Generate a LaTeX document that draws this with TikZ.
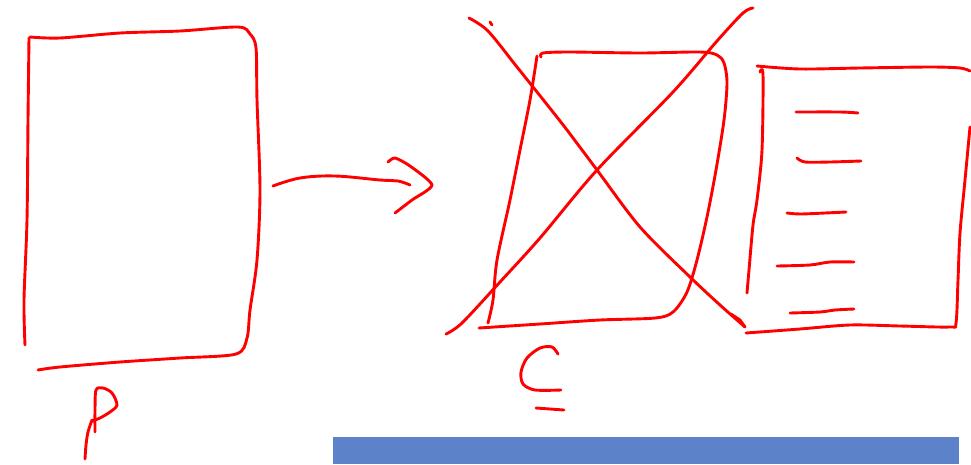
\documentclass[tikz,border=0pt]{standalone}
\definecolor{inkred}{RGB}{255,0,0}
\definecolor{barblue}{RGB}{92,130,202}
\tikzset{
  ink/.style={draw=inkred, line width=2.9pt, line cap=round, line join=round},
}
\begin{document}
\begin{tikzpicture}[x=1pt,y=-1pt]
\useasboundingbox (0,0) rectangle (971,464);
% ---- left rectangle (P)
\draw[ink] plot[smooth,tension=0.5] coordinates {(29,38) (28,120) (27,220) (24,300) (25,345)};
\draw[ink] plot[smooth,tension=0.5] coordinates {(30,37) (60,38) (120,33) (180,31) (238,27) (250,34) (256,48) (257,100) (260,190) (257,260) (250,310) (247,338) (236,354) (180,358) (120,362) (60,367) (38,370)};
% ---- arrow
\draw[ink] plot[smooth,tension=0.6] coordinates {(273,186) (300,178) (335,176) (380,180) (398,181) (410,185)};
\draw[ink] plot[smooth,tension=0.4] coordinates {(388,162) (395,158) (410,166) (432,185) (412,200) (395,213)};
% ---- middle rectangle (C), crossed out
\draw[ink] plot[smooth,tension=0.5] coordinates {(537,56) (530,100) (520,150) (510,200) (497,260) (493,300) (488,323)};
\draw[ink] plot[smooth,tension=0.5] coordinates {(541,57) (543,53) (570,52) (640,53) (700,52) (717,55) (724,63) (727,83) (724,120) (716,170) (707,217) (697,260) (687,292) (673,312) (655,318) (600,320) (540,324) (479,328)};
\draw[ink] plot[smooth,tension=0.5] coordinates {(469,18) (488,31) (517,67) (545,102) (567,130) (597,170) (640,227) (690,277) (720,305) (737,320) (745,327)};
\draw[ink] (490,22) -- (492,25);
\draw[ink] plot[smooth,tension=0.5] coordinates {(446,334) (462,323) (500,282) (540,238) (597,170) (673,92) (717,41) (743,13) (753,8)};
% ---- right rectangle (list)
\draw[ink] plot[smooth,tension=0.5] coordinates {(757,66) (800,69) (860,68) (930,67) (960,68) (970,71)};
\draw[ink] plot[smooth,tension=0.5] coordinates {(760,72) (763,75) (762,150) (757,200) (753,225) (749,270) (747,293)};
\draw[ink] plot[smooth,tension=0.5] coordinates {(970,127) (965,180) (960,233) (958,280) (956,323) (950,327) (900,326) (850,325) (800,329) (746,333)};
\draw[ink] (731,314) -- (740,320) -- (745,327);
% list dashes
\draw[ink] plot[smooth,tension=0.5] coordinates {(796,112) (840,112) (858,113)};
\draw[ink] plot[smooth,tension=0.5] coordinates {(797,158) (805,162) (830,162) (861,161)};
\draw[ink] plot[smooth,tension=0.5] coordinates {(787,213) (800,214) (825,213) (846,212)};
\draw[ink] plot[smooth,tension=0.5] coordinates {(777,266) (810,265) (830,262) (854,262)};
\draw[ink] plot[smooth,tension=0.5] coordinates {(790,313) (820,312) (835,310) (854,309)};
% ---- label P
\draw[ink] plot[smooth,tension=0.5] coordinates {(85,459) (86,445) (88,432) (92,420)};
\draw[ink] plot[smooth,tension=0.5] coordinates {(95,432) (95,410) (96,390) (103,388) (112,393) (117,405) (110,412) (100,418) (92,421)};
% ---- label C
\draw[ink] plot[smooth,tension=0.5] coordinates {(558,354) (552,347) (540,348) (527,358) (521,372) (523,384) (535,390) (561,390)};
\draw[ink] (536,408) -- (550,409) -- (564,410);
% ---- blue bar
\fill[barblue] (333,437) rectangle (959,464);
\end{tikzpicture}
\end{document}
